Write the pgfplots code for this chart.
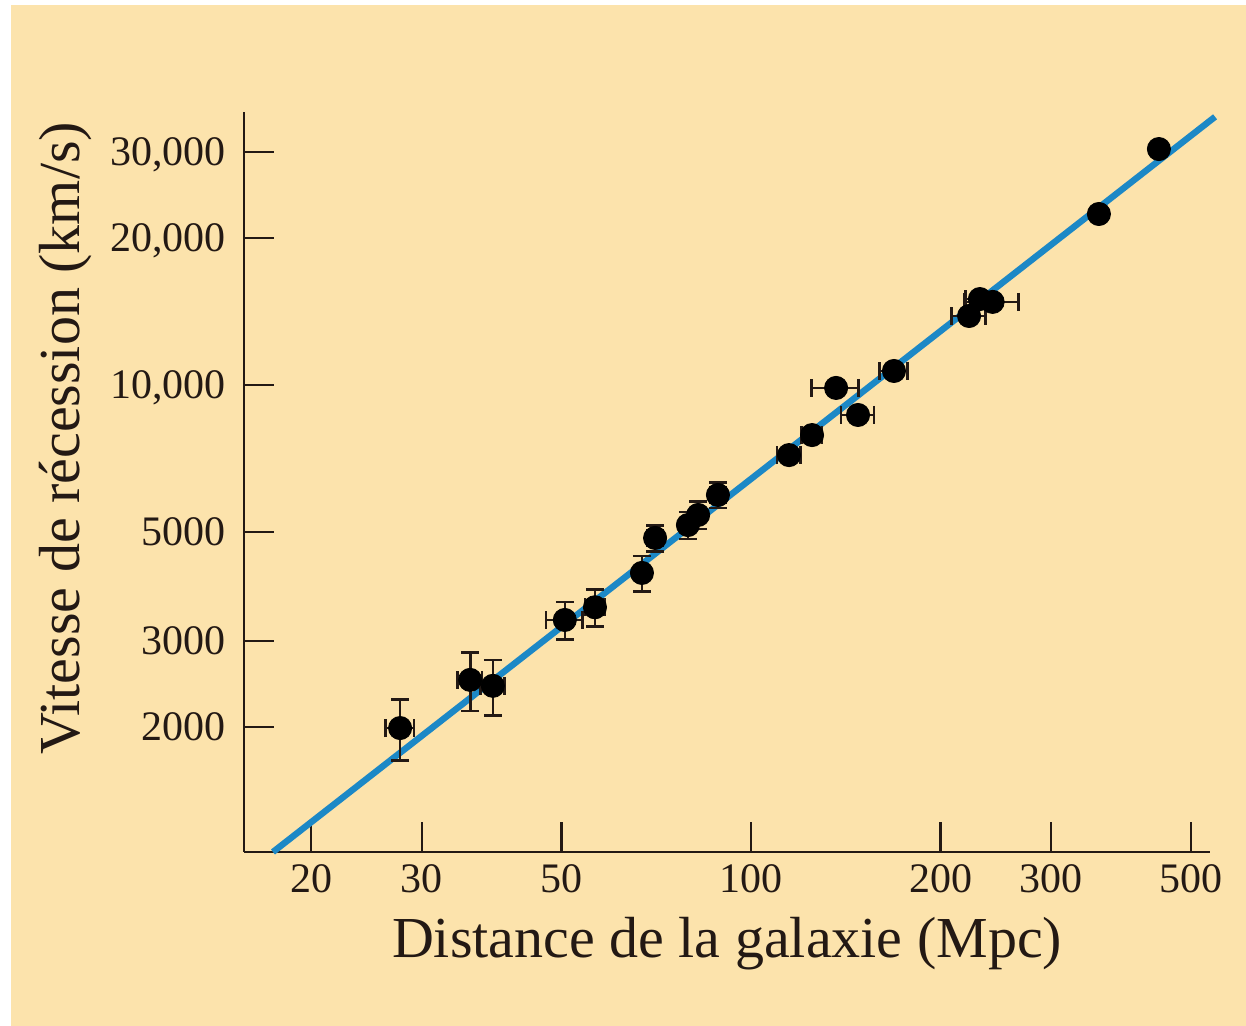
\documentclass[border=0pt]{standalone}
\usepackage{pgfplots}
\pgfplotsset{compat=1.18}
\usepackage{pgfplotstable}
\usepackage{fontspec}
\setmainfont{Liberation Serif}
\definecolor{bg}{RGB}{252,227,172}
\definecolor{fitblue}{RGB}{28,136,198}
\definecolor{axcol}{RGB}{35,25,20}

\pgfplotstableread{
d v ed ev
27.7 1990 1.45 283
35.8 2496 1.6 340
38.9 2427 1.7 315
50.6 3310 3.4 290
56.5 3514 2.0 305
67.1 4130 1.5 340
70.4 4870 2.0 300
79.4 5175 2.0 330
82.4 5427 2.0 350
88.6 5963 2.5 360
114.9 7195 5.0 200
125.0 7907 4.6 200
136.5 9870 11.8 0
147.9 8690 9.0 0
168.7 10690 8.7 0
222 13850 14 0
231 15000 11.9 0
242 14800 24 0
357 22390 6 0
444.6 30400 0 0
}\galaxies

\begin{document}
\begin{tikzpicture}
\fill[white] (-122pt,-87pt) rectangle (501pt,426pt);
\fill[bg] (-116.5pt,-87pt) rectangle (501pt,423.5pt);
\begin{axis}[
 at={(0,0)}, anchor=south west,
 scale only axis, width=483pt, height=370pt,
 xmode=log, ymode=log,
 xmin=15.65, xmax=536, ymin=1110, ymax=36200,
 axis x line*=bottom, axis y line*=left,
 axis line style={line width=1.1pt, color=axcol},
 tick align=inside, major tick length=15pt,
 tick style={line width=1.1pt, color=axcol},
 xminorticks=false, yminorticks=false,
 xtick={20,30,50,100,200,300,500},
 xticklabels={20,30,50,100,200,300,500},
 ytick={2000,3000,5000,10000,20000,30000},
 yticklabels={2000,3000,5000,{10,000},{20,000},{30,000}},
 ticklabel style={font=\fontsize{21}{24}\selectfont, text=axcol},
 xticklabel style={anchor=base, inner sep=0pt, yshift=-20.5pt},
 yticklabel style={anchor=base east, inner sep=0pt, xshift=-9pt, yshift=-6.7pt},
 xlabel={Distance de la galaxie (Mpc)},
 ylabel={Vitesse de récession (km/s)},
 label style={font=\fontsize{29}{34}\selectfont, text=axcol},
 xlabel style={at={(axis description cs:0.5,-0.1432)}, anchor=base, inner sep=0pt},
 ylabel style={at={(axis description cs:-0.1708,0.559)}, anchor=base, inner sep=0pt},
 clip=false,
]
\addplot[fitblue, line width=3.2pt] coordinates {(17.4,1110) (546,35380)};
\addplot[only marks, mark=*, mark size=5.8pt, black, mark options={fill=black},
  error bars/.cd, x dir=both, x explicit, y dir=both, y explicit,
  error bar style={line width=1.3pt, color=axcol},
  error mark options={rotate=90, mark size=4.5pt, line width=1.3pt, color=axcol}]
  table[x=d, y=v, x error=ed, y error=ev] {\galaxies};
\end{axis}
\pgfresetboundingbox
\path[use as bounding box] (-122pt,-87pt) rectangle (501pt,426pt);
\end{tikzpicture}
\end{document}
